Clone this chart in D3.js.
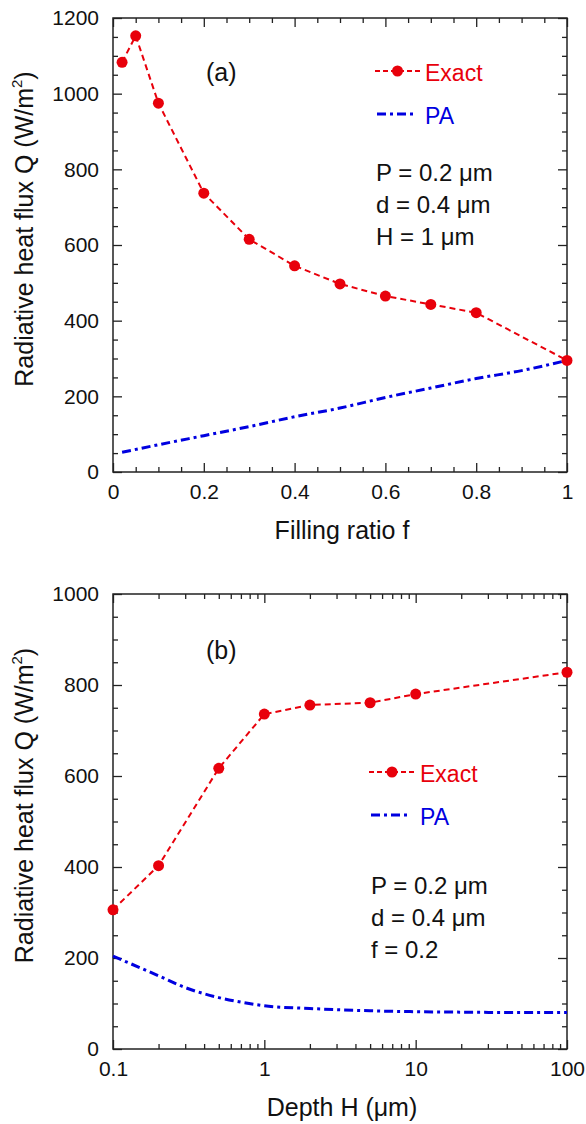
<!DOCTYPE html>
<html><head><meta charset="utf-8">
<script src="https://cdn.jsdelivr.net/npm/d3@7"></script>
<style>
html,body{margin:0;padding:0;background:#fff;}
svg{display:block;font-family:"Liberation Sans",Arial,sans-serif;}
</style></head>
<body>
<svg id="chart" width="586" height="1124"></svg>
<script>
// ---- Panel (a) data ----
const fillExact = [0.02,0.05,0.1,0.2,0.3,0.4,0.5,0.6,0.7,0.8,1.0];
const qExactA   = [1083,1153,975,737,615,545,497,465,443,421,295];
const fillPA    = [0.02,0.1,0.2,0.3,0.4,0.5,0.6,0.7,0.8,0.9,1.0];
const qPAA      = [52,72,96,120,146,169,197,222,247,268,295];
const xTicksA   = [0,0.2,0.4,0.6,0.8,1];
const yTicksA   = [0,200,400,600,800,1000,1200];
// ---- Panel (b) data ----
const depthExact = [0.1,0.2,0.5,1,2,5,10,100];
const qExactB    = [306,403,617,736,756,761,780,828];
const depthPA    = [0.1,0.2,0.3,0.5,0.7,1,2,5,10,20,50,100];
const qPAB       = [204,161,135,113,103,95,89,84,82,81,80,80];
const xTicksB    = [0.1,1,10,100];
const yTicksB    = [0,200,400,600,800,1000];
const seriesNames = ["Exact","PA"];

const RED = "#e8000b", BLUE = "#0000e0";
const svg = d3.select("#chart");
const L = 113, R = 567;
const tickFont = 21, legendFont = 23, noteFont = 24, labelFont = 25, titleFont = 25;

function panel(opts){
  const g = svg.append("g");
  const {x, y, top, bottom} = opts;
  const drawAxis = (axis, tf) => {
    const a = g.append("g").attr("transform", tf).call(axis);
    a.select(".domain").remove();
    a.selectAll("line").attr("stroke","#222").attr("stroke-width",1.3);
    a.selectAll("text").attr("font-size",tickFont).attr("fill","#111").attr("font-family","Liberation Sans, Arial, sans-serif");
    return a;
  };
  // bottom
  drawAxis(d3.axisBottom(x).tickValues(opts.xMinor).tickSize(-5).tickFormat(""), `translate(0,${bottom})`);
  drawAxis(d3.axisBottom(x).tickValues(opts.xMajor).tickSize(-9).tickPadding(12).tickFormat(opts.xFmt), `translate(0,${bottom})`);
  // top
  drawAxis(d3.axisTop(x).tickValues(opts.xMinor).tickSize(-5).tickFormat(""), `translate(0,${top})`);
  drawAxis(d3.axisTop(x).tickValues(opts.xMajor).tickSize(-9).tickFormat(""), `translate(0,${top})`);
  // left
  drawAxis(d3.axisLeft(y).tickValues(opts.yMinor).tickSize(-5).tickFormat(""), `translate(${L},0)`);
  drawAxis(d3.axisLeft(y).tickValues(opts.yMajor).tickSize(-9).tickPadding(14).tickFormat(d3.format("d")), `translate(${L},0)`);
  // right
  drawAxis(d3.axisRight(y).tickValues(opts.yMinor).tickSize(-5).tickFormat(""), `translate(${R},0)`);
  drawAxis(d3.axisRight(y).tickValues(opts.yMajor).tickSize(-9).tickFormat(""), `translate(${R},0)`);
  // frame
  g.append("rect").attr("x",L).attr("y",top).attr("width",R-L).attr("height",bottom-top)
    .attr("fill","none").attr("stroke","#222").attr("stroke-width",1.5);

  // PA line
  const paLine = d3.line().x(d=>x(d[0])).y(d=>y(d[1])).curve(d3.curveMonotoneX);
  g.append("path").datum(d3.zip(opts.paX, opts.paY)).attr("d",paLine)
    .attr("fill","none").attr("stroke",BLUE).attr("stroke-width",3).attr("stroke-dasharray","9,4,3,4");
  // Exact line
  const exLine = d3.line().x(d=>x(d[0])).y(d=>y(d[1]));
  const exData = d3.zip(opts.exX, opts.exY);
  g.append("path").datum(exData).attr("d",exLine)
    .attr("fill","none").attr("stroke",RED).attr("stroke-width",2).attr("stroke-dasharray","6,4");
  g.selectAll("circle.pt").data(exData).join("circle").attr("class","pt")
    .attr("cx",d=>x(d[0])).attr("cy",d=>y(d[1])).attr("r",5.5).attr("fill",RED);

  // panel label
  g.append("text").attr("x",opts.labelPos[0]).attr("y",opts.labelPos[1]).attr("font-size",labelFont)
    .attr("fill","#111").text(opts.label);

  // legend
  const lg = opts.legend;
  g.append("line").attr("x1",lg.x0).attr("x2",lg.x1).attr("y1",lg.y).attr("y2",lg.y)
    .attr("stroke",RED).attr("stroke-width",2).attr("stroke-dasharray","5,3");
  g.append("circle").attr("cx",(lg.x0+lg.x1)/2).attr("cy",lg.y).attr("r",5.5).attr("fill",RED);
  g.append("text").attr("x",lg.tx).attr("y",lg.y+9.5).attr("font-size",legendFont).attr("fill",RED).text(seriesNames[0]);
  g.append("line").attr("x1",lg.x0+2).attr("x2",lg.x1-7).attr("y1",lg.y+43).attr("y2",lg.y+43)
    .attr("stroke",BLUE).attr("stroke-width",3).attr("stroke-dasharray","9,4,3,4");
  g.append("text").attr("x",lg.tx).attr("y",lg.y+52.5).attr("font-size",legendFont).attr("fill",BLUE).text(seriesNames[1]);

  // annotation lines
  opts.notes.forEach((t,i)=>{
    g.append("text").attr("x",opts.notePos[0]).attr("y",opts.notePos[1]+i*32).attr("font-size",noteFont)
      .attr("fill","#111").text(t);
  });

  // axis titles
  g.append("text").attr("x",(L+R)/2+2).attr("y",bottom+67).attr("text-anchor","middle")
    .attr("font-size",titleFont).attr("fill","#111").text(opts.xTitle);
  const yt = g.append("text").attr("transform",`translate(33,${(top+bottom)/2-16}) rotate(-90)`)
    .attr("text-anchor","middle").attr("font-size",titleFont).attr("fill","#111");
  yt.append("tspan").text("Radiative heat flux Q (W/m");
  yt.append("tspan").attr("font-size",15).attr("dy",-11).text("2");
  yt.append("tspan").attr("dy",11).text(")");
}

// Panel (a)
const topA = 18, botA = 472;
const xA = d3.scaleLinear().domain([0,1]).range([L,R]);
const yA = d3.scaleLinear().domain([0,1200]).range([botA,topA]);
panel({
  x:xA, y:yA, top:topA, bottom:botA,
  xMajor:xTicksA, xMinor:d3.range(0,1.0001,0.05).filter(v=>Math.abs(v*5-Math.round(v*5))>1e-6),
  yMajor:yTicksA, yMinor:d3.range(0,1201,50).filter(v=>v%200!==0),
  xFmt:d=>d3.format("")(+d.toFixed(1)),
  paX:fillPA, paY:qPAA, exX:fillExact, exY:qExactA,
  label:"(a)", labelPos:[206,81],
  legend:{x0:375,x1:420,y:71,tx:425},
  notes:["P = 0.2 \u03bcm","d = 0.4 \u03bcm","H = 1 \u03bcm"], notePos:[376,181],
  xTitle:"Filling ratio f"
});

// Panel (b)
const topB = 594, botB = 1049;
const xB = d3.scaleLog().domain([0.1,100]).range([L,R]);
const yB = d3.scaleLinear().domain([0,1000]).range([botB,topB]);
const minorLog = [];
[0.1,1,10].forEach(dec=>{ for(let k=2;k<=9;k++) minorLog.push(dec*k); });
panel({
  x:xB, y:yB, top:topB, bottom:botB,
  xMajor:xTicksB, xMinor:minorLog,
  yMajor:yTicksB, yMinor:d3.range(0,1001,50).filter(v=>v%200!==0),
  xFmt:d=>String(d),
  paX:depthPA, paY:qPAB, exX:depthExact, exY:qExactB,
  label:"(b)", labelPos:[206,659],
  legend:{x0:369,x1:415,y:772,tx:420},
  notes:["P = 0.2 \u03bcm","d = 0.4 \u03bcm","f = 0.2"], notePos:[371,894],
  xTitle:"Depth H (\u03bcm)"
});
</script>
</body></html>
